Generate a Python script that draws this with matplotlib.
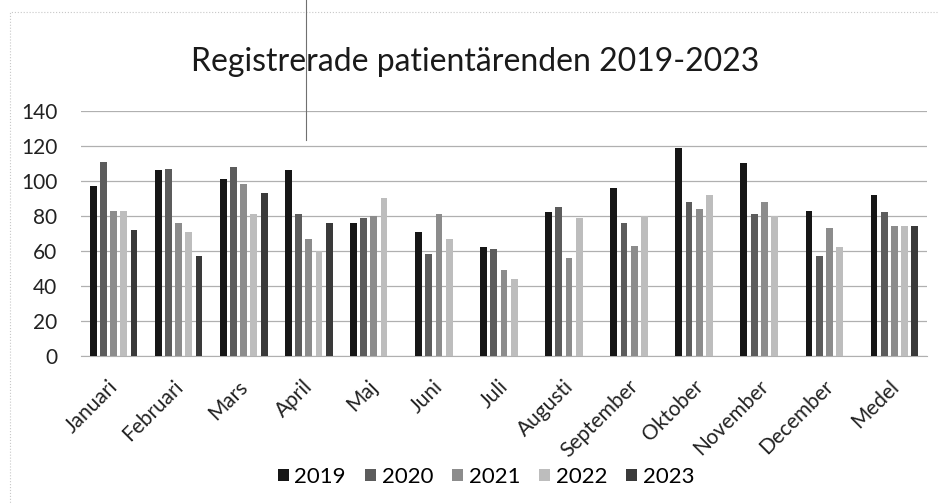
import numpy as np
import matplotlib
matplotlib.use("Agg")
import matplotlib.pyplot as plt
import matplotlib.transforms as mtransforms
from matplotlib.lines import Line2D
from matplotlib.patches import Rectangle

plt.rcParams['font.family'] = ['Lato', 'DejaVu Sans']

categories = ["Januari", "Februari", "Mars", "April", "Maj", "Juni", "Juli",
              "Augusti", "September", "Oktober", "November", "December", "Medel"]
years = ["2019", "2020", "2021", "2022", "2023"]
v2019 = [97, 106, 101, 106, 76, 71, 62, 82, 96, 119, 110, 83, 92]
v2020 = [111, 107, 108, 81, 79, 58, 61, 85, 76, 88, 81, 57, 82]
v2021 = [83, 76, 98, 67, 80, 81, 49, 56, 63, 84, 88, 73, 74]
v2022 = [83, 71, 81, 60, 90, 67, 44, 79, 80, 92, 80, 62, 74]
v2023 = [72, 57, 93, 76, np.nan, np.nan, np.nan, np.nan, np.nan, np.nan, np.nan, np.nan, 74]
series = [v2019, v2020, v2021, v2022, v2023]
colors = ["#161616", "#5c5c5c", "#8c8c8c", "#bdbdbd", "#3a3a3a"]

W, H = 939, 504
fig = plt.figure(figsize=(W / 100, H / 100), dpi=100)
ax = fig.add_axes([81 / W, 1 - 355.7 / H, (927 - 81) / W, (355.7 - 111) / H])

x = np.arange(len(categories))
slot = 0.157
bw = 0.105
for i, (vals, c) in enumerate(zip(series, colors)):
    ax.bar(x + (i - 2) * slot, vals, width=bw, color=c, label=years[i], zorder=3)

ax.set_xlim(-0.5, len(categories) - 0.5)
ax.set_ylim(0, 140)
ax.set_yticks(range(0, 141, 20))
ax.grid(axis='y', color='#b0b0b0', lw=0.9, zorder=0)
ax.tick_params(axis='y', length=0, labelsize=15, pad=17, labelcolor='#222222')
ax.tick_params(axis='x', length=0, pad=20)
ax.set_xticks(x)
ax.set_xticklabels(categories, rotation=45, ha='right', va='center',
                   rotation_mode='anchor', fontsize=15, color='#222222')
offset = mtransforms.ScaledTranslation(1 / 100, 0, fig.dpi_scale_trans)
for lab in ax.get_xticklabels():
    lab.set_transform(lab.get_transform() + offset)
for s in ['top', 'right', 'left']:
    ax.spines[s].set_visible(False)
ax.spines['bottom'].set_color('#b0b0b0')

fig.text(475 / W, 1 - 62 / H, "Registrerade patientärenden 2019-2023",
         ha='center', va='center', fontsize=23, color='#1a1a1a')

fig.legend(loc='center', bbox_to_anchor=(486 / W, 1 - 477 / H), ncol=5,
           frameon=False, fontsize=16, handlelength=0.5, handleheight=0.5,
           handletextpad=0.25, columnspacing=0.85)

# scanned page border and stray line
fig.add_artist(Rectangle((10 / W, -0.05), 1.2, 1 - 12 / H + 0.05,
                         transform=fig.transFigure, fill=False,
                         ec='#c8c8c8', lw=0.8, ls=':'))
fig.add_artist(Line2D([306 / W, 306 / W], [1, 1 - 140 / H],
                      transform=fig.transFigure, color='#707070', lw=0.8))

fig.savefig("out.png", dpi=100)
